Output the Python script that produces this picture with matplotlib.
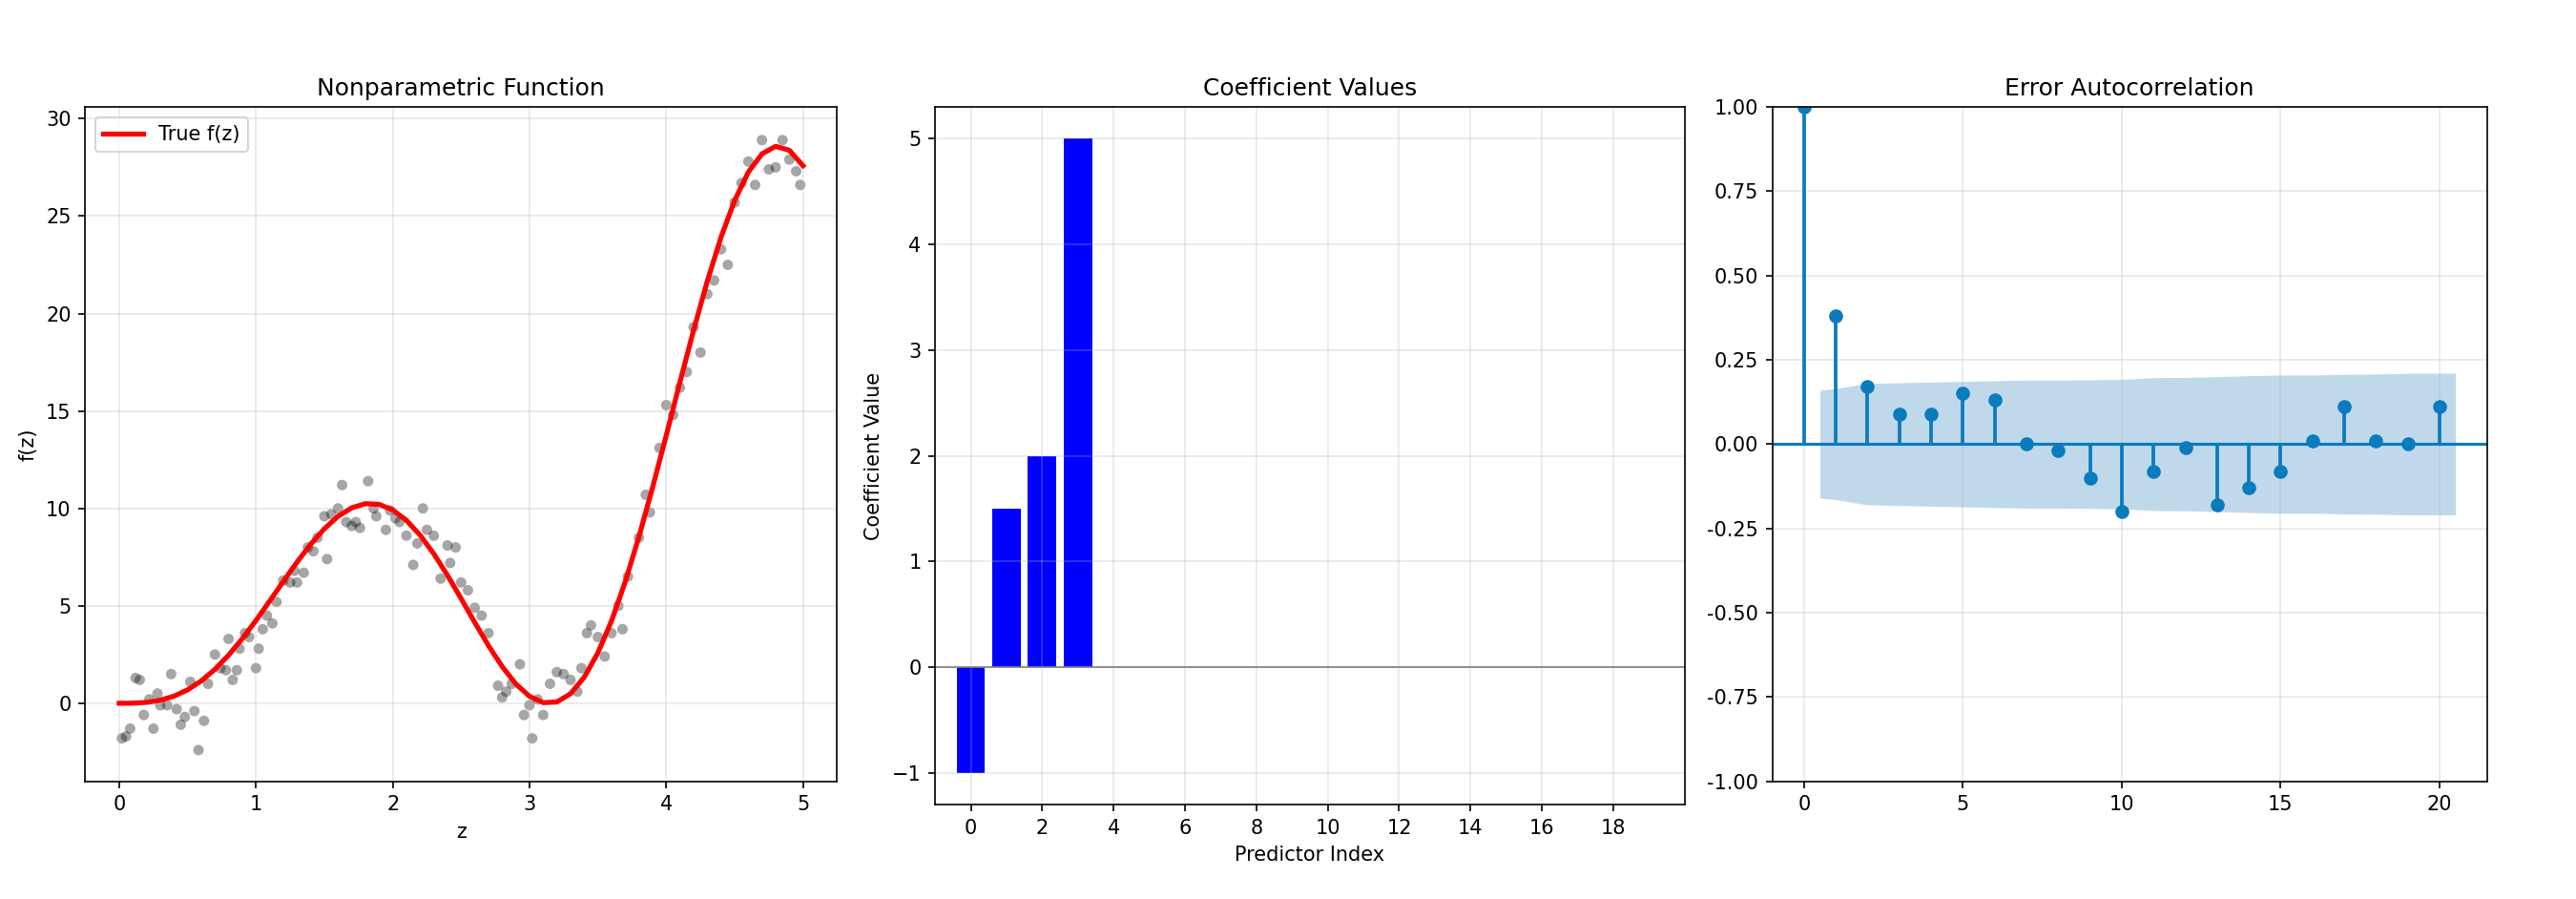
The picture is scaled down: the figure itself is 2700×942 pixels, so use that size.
import matplotlib.pyplot as plt

# True function, sampled every 0.1
z_true = [i / 10 for i in range(51)]
f_true = [0.0, 0.006, 0.047, 0.157, 0.364, 0.689, 1.148, 1.743, 2.470, 3.313,
          4.249, 5.242, 6.255, 7.242, 8.157, 8.955, 9.592, 10.031, 10.242, 10.209,
          9.922, 9.388, 8.629, 7.674, 6.571, 5.373, 4.146, 2.960, 1.885, 0.995,
          0.358, 0.032, 0.065, 0.492, 1.332, 2.584, 4.229, 6.231, 8.537, 11.071,
          13.747, 16.472, 19.144, 21.657, 23.905, 25.799, 27.255, 28.194, 28.581, 28.380,
          27.585]

# Observed points
z_obs = [0.02, 0.05, 0.08, 0.12, 0.15, 0.18, 0.22, 0.25, 0.28, 0.3,
         0.35, 0.38, 0.42, 0.45, 0.48, 0.52, 0.55, 0.58, 0.62, 0.65,
         0.7, 0.74, 0.78, 0.8, 0.83, 0.86, 0.88, 0.92, 0.95, 1.0,
         1.02, 1.05, 1.08, 1.12, 1.15, 1.2, 1.25, 1.28, 1.3, 1.35,
         1.38, 1.42, 1.45, 1.5, 1.52, 1.55, 1.6, 1.63, 1.66, 1.7,
         1.73, 1.76, 1.82, 1.86, 1.88, 1.95, 1.98, 2.02, 2.05, 2.1,
         2.15, 2.18, 2.22, 2.25, 2.3, 2.35, 2.4, 2.42, 2.46, 2.5,
         2.55, 2.6, 2.65, 2.7, 2.77, 2.8, 2.83, 2.87, 2.93, 2.96,
         3.0, 3.02, 3.06, 3.1, 3.15, 3.2, 3.25, 3.3, 3.35, 3.38,
         3.42, 3.45, 3.5, 3.55, 3.6, 3.65, 3.68, 3.72, 3.8, 3.85, 3.88,
         3.95, 4.0, 4.05, 4.1, 4.15, 4.2, 4.25, 4.3, 4.35, 4.4, 4.45,
         4.5, 4.55, 4.6, 4.65, 4.7, 4.75, 4.8, 4.85, 4.9, 4.95, 4.98]
y_obs = [-1.8, -1.7, -1.3, 1.3, 1.2, -0.6, 0.2, -1.3, 0.5, -0.1,
         -0.1, 1.5, -0.3, -1.1, -0.7, 1.1, -0.4, -2.4, -0.9, 1.0,
         2.5, 1.8, 1.7, 3.3, 1.2, 1.7, 2.8, 3.6, 3.4, 1.8,
         2.8, 3.8, 4.5, 4.1, 5.2, 6.3, 6.2, 6.8, 6.2, 6.7,
         8.0, 7.8, 8.5, 9.6, 7.4, 9.7, 10.0, 11.2, 9.3, 9.1,
         9.3, 9.0, 11.4, 10.0, 9.6, 8.9, 9.9, 9.5, 9.3, 8.6,
         7.1, 8.2, 10.0, 8.9, 8.6, 6.4, 8.1, 7.2, 8.0, 6.2,
         5.8, 4.9, 4.5, 3.6, 0.9, 0.3, 0.6, 1.0, 2.0, -0.6,
         -0.1, -1.8, 0.2, -0.6, 1.0, 1.6, 1.5, 1.2, 0.6, 1.8,
         3.6, 4.0, 3.4, 2.4, 3.6, 5.0, 3.8, 6.5, 8.5, 10.7, 9.8,
         13.1, 15.3, 14.8, 16.2, 17.0, 19.3, 18.0, 21.0, 21.7, 23.3, 22.5,
         25.7, 26.7, 27.8, 26.6, 28.9, 27.4, 27.5, 28.9, 27.9, 27.3, 26.6]

# Coefficients
pred_idx = [0, 1, 2, 3]
coefs = [-1.0, 1.5, 2.0, 5.0]

# Autocorrelation
lags = list(range(21))
acf_vals = [1.0, 0.38, 0.17, 0.09, 0.09, 0.15, 0.13, 0.0, -0.02, -0.10, -0.20,
            -0.08, -0.01, -0.18, -0.13, -0.08, 0.01, 0.11, 0.01, 0.0, 0.11]
band_x = [0.5, 1, 2, 3, 4, 5, 6, 7, 8, 9, 10, 11, 12, 13, 14, 15, 16, 17, 18, 19, 20, 20.5]
band_hi = [0.16, 0.165, 0.18, 0.182, 0.184, 0.186, 0.188, 0.19, 0.19, 0.191, 0.192,
           0.197, 0.198, 0.2, 0.203, 0.205, 0.205, 0.207, 0.208, 0.21, 0.21, 0.21]

fig = plt.figure(figsize=(18, 6.28), dpi=150)
ax1 = fig.add_axes([0.033, 0.131, 0.292, 0.75])
ax2 = fig.add_axes([0.363, 0.105, 0.291, 0.776])
ax3 = fig.add_axes([0.688, 0.131, 0.2775, 0.75])

# Panel 1
ax1.scatter(z_obs, y_obs, color='black', alpha=0.35, s=28, edgecolors='none')
ax1.plot(z_true, f_true, color='red', lw=2.5, label='True f(z)')
ax1.set_title('Nonparametric Function', fontsize=12)
ax1.set_xlabel('z')
ax1.set_ylabel('f(z)')
ax1.set_ylim(-4, 30.6)
ax1.legend(loc='upper left')
ax1.grid(True, alpha=0.3)

# Panel 2
ax2.bar(pred_idx, coefs, color='blue')
ax2.axhline(0, color='gray', lw=0.8)
ax2.set_xticks(range(0, 20, 2))
ax2.set_xlim(-1, 20)
ax2.set_title('Coefficient Values', fontsize=12)
ax2.set_xlabel('Predictor Index')
ax2.set_ylabel('Coefficient Value')
ax2.grid(True, alpha=0.3)

# Panel 3
c = '#0a7bbd'
ax3.fill_between(band_x, [-v for v in band_hi], band_hi, color='#1f77b4', alpha=0.28, lw=0)
ax3.axhline(0, color=c, lw=1.5)
ax3.vlines(lags, 0, acf_vals, color=c, lw=1.8)
ax3.plot(lags, acf_vals, 'o', color=c, ms=6)
ax3.set_xlim(-1, 21.5)
ax3.set_xticks([0, 5, 10, 15, 20])
ax3.set_ylim(-1, 1)
ax3.set_yticks([-1, -0.75, -0.5, -0.25, 0, 0.25, 0.5, 0.75, 1])
ax3.yaxis.set_major_formatter(plt.FormatStrFormatter('%.2f'))
ax3.set_title('Error Autocorrelation', fontsize=12)
ax3.grid(True, alpha=0.3)

fig.savefig('out.png')
